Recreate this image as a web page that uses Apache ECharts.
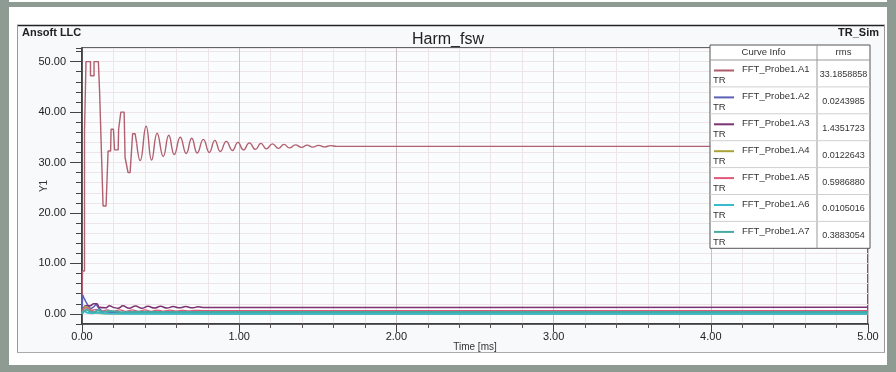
<!DOCTYPE html>
<html>
<head>
<meta charset="utf-8">
<script src="https://cdn.jsdelivr.net/npm/echarts@6/dist/echarts.min.js"></script>
<style>
  html, body { margin: 0; padding: 0; background: #fff; }
  #main { width: 896px; height: 372px; }
</style>
</head>
<body>
<div id="main"></div>
<script>
var chartDom = document.getElementById('main');
var myChart = echarts.init(chartDom);

// curve info table
var curveNames = ['FFT_Probe1.A1', 'FFT_Probe1.A2', 'FFT_Probe1.A3', 'FFT_Probe1.A4', 'FFT_Probe1.A5', 'FFT_Probe1.A6', 'FFT_Probe1.A7'];
var rmsValues = ['33.1858858', '0.0243985', '1.4351723', '0.0122643', '0.5986880', '0.0105016', '0.3883054'];
var curveColors = ['#ad5a68', '#5b62b5', '#7b3373', '#aaa236', '#e0587a', '#38bccb', '#44aaa2'];

var xLabels = [0, 1, 2, 3, 4, 5];
var yLabels = [0, 10, 20, 30, 40, 50];

// A1: [time ms, value]
var a1Steps = [
  [0, 0], [0.003, 8.5], [0.016, 8.5], [0.016, 36.3], [0.0255, 36.3], [0.0255, 50],
  [0.054, 50], [0.054, 47.2], [0.0765, 47.2], [0.0765, 50], [0.104, 50], [0.112, 44],
  [0.121, 44], [0.134, 21.4], [0.153, 21.4], [0.166, 32.3], [0.182, 32.3], [0.185, 36.6],
  [0.2, 36.6], [0.207, 32.5], [0.23, 32.5], [0.233, 36.6], [0.247, 40], [0.268, 40],
  [0.274, 31], [0.293, 28], [0.306, 28], [0.322, 35.7], [0.338, 35.7], [0.348, 33.8]
];
var a1Ripple = [
  [0.348, 33.8], [0.37, 30.4], [0.408, 37.2], [0.443, 30.5], [0.478, 35.8], [0.517, 31.2],
  [0.552, 35.4], [0.587, 31.6], [0.625, 35.0], [0.663, 31.8], [0.698, 34.8], [0.733, 31.9],
  [0.772, 34.6], [0.81, 32.0], [0.845, 34.4], [0.88, 32.2], [0.918, 34.2], [0.957, 32.4],
  [0.992, 34.0], [1.027, 32.5], [1.065, 33.9], [1.103, 32.6], [1.138, 33.8], [1.173, 32.7],
  [1.212, 33.7], [1.25, 32.8], [1.285, 33.6], [1.32, 32.9], [1.358, 33.5], [1.397, 33.0],
  [1.432, 33.45], [1.467, 33.05], [1.505, 33.4], [1.543, 33.1], [1.582, 33.35], [1.62, 33.2],
  [5, 33.2]
];
var a2 = [
  [0, 0], [0.004, 3.8], [0.012, 3.2], [0.025, 2.4], [0.04, 1.6], [0.055, 1.0], [0.075, 1.4],
  [0.09, 1.9], [0.105, 1.2], [0.125, 0.6], [0.16, 0.4], [0.2, 0.3], [0.3, 0.2], [0.45, 0.15],
  [0.6, 0.1], [0.8, 0.05], [1.1, 0.03], [5, 0.02]
];
var a3 = [
  [0, 0], [0.01, 1.2], [0.025, 1.6], [0.05, 1.6], [0.075, 2.0], [0.095, 2.0], [0.11, 1.3],
  [0.15, 1.2], [0.175, 1.6], [0.2, 1.3], [0.23, 1.1], [0.26, 1.6], [0.3, 1.1], [0.34, 1.55],
  [0.38, 1.1], [0.42, 1.5], [0.46, 1.15], [0.5, 1.5], [0.54, 1.15], [0.58, 1.45], [0.62, 1.2],
  [0.66, 1.45], [0.7, 1.2], [0.74, 1.4], [0.78, 1.28], [5, 1.3]
];
var a4 = [
  [0, 0], [0.008, 1.0], [0.02, 1.5], [0.04, 1.2], [0.06, 0.6], [0.09, 0.3], [0.12, 0.1],
  [0.2, 0.05], [5, 0.01]
];
var a5 = [
  [0, 0], [0.01, 0.9], [0.03, 1.2], [0.06, 0.7], [0.09, 0.9], [0.12, 0.5], [0.16, 0.8],
  [0.2, 0.5], [0.24, 0.8], [0.28, 0.5], [0.32, 0.8], [0.36, 0.5], [0.4, 0.78], [0.44, 0.52],
  [0.48, 0.76], [0.52, 0.54], [0.56, 0.74], [0.6, 0.56], [0.64, 0.72], [0.68, 0.58],
  [0.72, 0.7], [0.76, 0.65], [5, 0.65]
];
var a6 = [
  [0, 0], [0.01, 0.6], [0.03, 0.3], [0.06, 0.15], [0.1, 0.3], [0.15, 0.1], [0.3, 0.05],
  [0.6, 0.03], [5, 0.01]
];
var a7 = [
  [0, 0], [0.01, 0.5], [0.03, 0.9], [0.05, 0.5], [0.08, 0.3], [0.1, 0.8], [0.13, 0.4],
  [0.18, 0.6], [0.25, 0.35], [0.35, 0.45], [0.5, 0.38], [0.7, 0.4], [1.0, 0.39], [5, 0.39]
];

var font = "'Liberation Sans', Arial, sans-serif";

function line(name, data, color, width, smooth) {
  return {
    name: name,
    type: 'line',
    data: data,
    symbol: 'none',
    smooth: smooth || false,
    lineStyle: { color: color, width: width },
    animation: false
  };
}

// curve info box, built from the arrays above
var tableGraphics = [];
var tx = 710, ty = 45, tw = 160, headH = 15, rowH = 26.9, colX = 817;
var tableH = headH + rowH * curveNames.length;
tableGraphics.push({ type: 'rect', z: 100, shape: { x: tx, y: ty, width: tw, height: tableH },
  style: { fill: '#fff', stroke: '#555', lineWidth: 1 } });
tableGraphics.push({ type: 'line', z: 101, shape: { x1: colX, y1: ty, x2: colX, y2: ty + tableH },
  style: { stroke: '#999', lineWidth: 1 } });
tableGraphics.push({ type: 'line', z: 101, shape: { x1: tx, y1: ty + headH, x2: tx + tw, y2: ty + headH },
  style: { stroke: '#999', lineWidth: 1 } });
tableGraphics.push({ type: 'text', z: 101, style: { text: 'Curve Info', x: (tx + colX) / 2, y: ty + headH / 2,
  textAlign: 'center', textVerticalAlign: 'middle', align: 'center', verticalAlign: 'middle',
  fontSize: 9.5, fontFamily: font, fill: '#333' } });
tableGraphics.push({ type: 'text', z: 101, style: { text: 'rms', x: (colX + tx + tw) / 2, y: ty + headH / 2,
  textAlign: 'center', textVerticalAlign: 'middle', align: 'center', verticalAlign: 'middle',
  fontSize: 9.5, fontFamily: font, fill: '#333' } });
curveNames.forEach(function (n, i) {
  var top = ty + headH + i * rowH;
  if (i > 0) {
    tableGraphics.push({ type: 'line', z: 101, shape: { x1: tx, y1: top, x2: tx + tw, y2: top },
      style: { stroke: '#cfcfcf', lineWidth: 1 } });
  }
  tableGraphics.push({ type: 'line', z: 101, shape: { x1: tx + 4, y1: top + 10.5, x2: tx + 24, y2: top + 10.5 },
    style: { stroke: curveColors[i], lineWidth: 2 } });
  tableGraphics.push({ type: 'text', z: 101, style: { text: n, x: tx + 32, y: top + 9.5,
    textVerticalAlign: 'middle', verticalAlign: 'middle', fontSize: 9.5, fontFamily: font, fill: '#333' } });
  tableGraphics.push({ type: 'text', z: 101, style: { text: 'TR', x: tx + 3, y: top + 20.5,
    textVerticalAlign: 'middle', verticalAlign: 'middle', fontSize: 9.5, fontFamily: font, fill: '#333' } });
  tableGraphics.push({ type: 'text', z: 101, style: { text: rmsValues[i], x: (colX + tx + tw) / 2, y: top + rowH / 2 + 1,
    textAlign: 'center', textVerticalAlign: 'middle', align: 'center', verticalAlign: 'middle',
    fontSize: 9, fontFamily: font, fill: '#333' } });
});

var frameGraphics = [
  { type: 'rect', z: -10, shape: { x: 0, y: 0, width: 896, height: 372 }, style: { fill: '#fff' } },
  { type: 'rect', z: -9, shape: { x: 17, y: 25, width: 868, height: 327 }, style: { fill: '#f8f9fb' } },
  { type: 'line', z: -8, shape: { x1: 17, y1: 25.5, x2: 885, y2: 25.5 }, style: { stroke: '#222', lineWidth: 1.5 } },
  { type: 'line', z: -8, shape: { x1: 17.5, y1: 25, x2: 17.5, y2: 352 }, style: { stroke: '#999', lineWidth: 1 } },
  { type: 'line', z: -8, shape: { x1: 17, y1: 352.5, x2: 885, y2: 352.5 }, style: { stroke: '#aaa', lineWidth: 1 } },
  { type: 'line', z: -8, shape: { x1: 884.5, y1: 25, x2: 884.5, y2: 352 }, style: { stroke: '#999', lineWidth: 1 } },
  { type: 'rect', z: -7, shape: { x: 0, y: 0, width: 9, height: 372 }, style: { fill: '#8d9b93' } },
  { type: 'rect', z: -7, shape: { x: 887, y: 0, width: 9, height: 372 }, style: { fill: '#8d9b93' } },
  { type: 'rect', z: -7, shape: { x: 0, y: 2, width: 896, height: 5 }, style: { fill: '#8d9b93' } },
  { type: 'rect', z: -7, shape: { x: 0, y: 365, width: 896, height: 7 }, style: { fill: '#8d9b93' } },
  { type: 'text', z: 5, style: { text: 'Ansoft LLC', x: 22, y: 33, textVerticalAlign: 'middle', verticalAlign: 'middle',
    fontSize: 11, fontWeight: 'bold', fontFamily: font, fill: '#222' } },
  { type: 'text', z: 5, style: { text: 'TR_Sim', x: 879, y: 33, textAlign: 'right', align: 'right',
    textVerticalAlign: 'middle', verticalAlign: 'middle', fontSize: 11, fontWeight: 'bold', fontFamily: font, fill: '#222' } }
];

var option = {
  backgroundColor: '#fff',
  animation: false,
  title: {
    text: 'Harm_fsw',
    left: 'center',
    top: 27,
    textStyle: { fontSize: 16, fontWeight: 'normal', color: '#222', fontFamily: font }
  },
  graphic: frameGraphics.concat(tableGraphics),
  grid: {
    left: 82, right: 28, top: 48, bottom: 48,
    show: true,
    backgroundColor: '#fbfcfd',
    borderColor: '#333',
    borderWidth: 1.5
  },
  xAxis: [
    {
      type: 'value', min: 0, max: 5, interval: 0.2,
      name: 'Time [ms]', nameLocation: 'middle', nameGap: 18, nameMoveOverlap: false,
      nameTextStyle: { fontSize: 10, color: '#333', fontFamily: font },
      axisLine: { onZero: false, lineStyle: { color: '#333', width: 1.5 } },
      axisTick: { length: 4, lineStyle: { color: '#555' } },
      axisLabel: { customValues: xLabels, margin: 7, fontSize: 11, color: '#222', fontFamily: font,
        formatter: function (v) { return v.toFixed(2); } },
      splitLine: { show: true, lineStyle: { color: '#ece4e7', width: 1 } }
    },
    {
      type: 'value', min: 0, max: 5, interval: 1, position: 'bottom',
      axisLine: { show: false, onZero: false },
      axisTick: { length: 8, lineStyle: { color: '#444' } },
      axisLabel: { show: false },
      splitLine: { show: true, lineStyle: { color: '#cbc1c5', width: 1 } }
    }
  ],
  yAxis: [
    {
      type: 'value', min: -2, max: 52.7, interval: 2,
      name: 'Y1', nameLocation: 'middle', nameGap: 33, nameMoveOverlap: false,
      nameTextStyle: { fontSize: 10, color: '#333', fontFamily: font },
      axisLine: { show: true, lineStyle: { color: '#333', width: 1.5 } },
      axisTick: { length: 6, lineStyle: { color: '#444' } },
      axisLabel: { customValues: yLabels, margin: 16, fontSize: 11, color: '#222', fontFamily: font,
        formatter: function (v) { return v.toFixed(2); } },
      splitLine: { show: true, lineStyle: { color: '#eee5e8', width: 1 } }
    },
    {
      type: 'value', min: -2, max: 52.7, position: 'left',
      axisLine: { show: false },
      axisTick: { show: true, customValues: yLabels, length: 12, lineStyle: { color: '#444' } },
      axisLabel: { show: false },
      splitLine: { show: false }
    }
  ],
  series: [
    line('FFT_Probe1.A1', a1Steps, '#b0606f', 1.4),
    line('FFT_Probe1.A1', a1Ripple, '#b0606f', 1.4, 0.5),
    line('FFT_Probe1.A2', a2, curveColors[1], 1.5),
    line('FFT_Probe1.A3', a3, curveColors[2], 1.5, 0.4),
    line('FFT_Probe1.A4', a4, curveColors[3], 1.5),
    line('FFT_Probe1.A5', a5, curveColors[4], 1.3, 0.4),
    line('FFT_Probe1.A6', a6, curveColors[5], 2),
    line('FFT_Probe1.A7', a7, curveColors[6], 2)
  ]
};

option && myChart.setOption(option);

window.addEventListener('resize', function () {
  myChart.resize();
});
</script>
</body>
</html>
